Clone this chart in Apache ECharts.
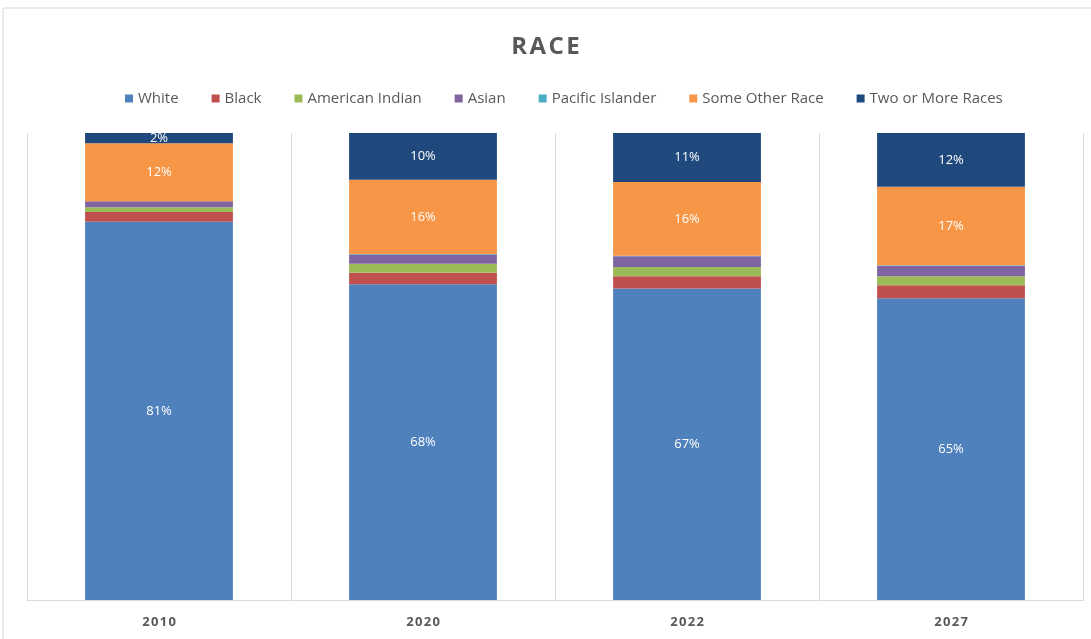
<!DOCTYPE html>
<html>
<head>
<meta charset="utf-8">
<script src="https://cdn.jsdelivr.net/npm/echarts@6/dist/echarts.min.js"></script>
<style>
    html, body { margin: 0; padding: 0; background: #ffffff; }
    #chart1 { width: 1091px; height: 639px; }
</style>
</head>
<body>
<div id="chart1"></div>
<script>
    var years = ['2010', '2020', '2022', '2027'];
    var white = [81.0, 67.6, 66.7, 64.6];
    var black = [2.1, 2.5, 2.6, 2.8];
    var americanIndian = [1.0, 1.9, 2.0, 1.9];
    var asian = [1.3, 2.0, 2.3, 2.3];
    var pacificIslander = [0.0, 0.1, 0.1, 0.1];
    var someOther = [12.4, 15.9, 15.8, 16.8];
    var twoOrMore = [2.2, 10.0, 10.5, 11.5];

    var dom = document.getElementById("chart1");
    var myChart = echarts.init(dom);

    function spaced(s) {
        return s.split('').join('\u200A');
    }

    function pct(p) {
        return Math.round(p.value) + '%';
    }

    function makeSeries(name, data, color, showLabel) {
        return {
            name: name,
            type: 'bar',
            stack: 'race',
            barWidth: '56%',
            data: data,
            itemStyle: {color: color},
            label: {
                show: showLabel,
                position: 'inside',
                color: '#ffffff',
                fontSize: 13,
                fontFamily: 'Open Sans',
                formatter: pct
            }
        };
    }

    option = {
        backgroundColor: '#ffffff',
        title: {
            text: spaced('RACE'),
            left: 'center',
            top: 30,
            textStyle: {
                fontSize: 24,
                fontWeight: 'bold',
                color: '#595959',
                fontFamily: 'Open Sans'
            }
        },
        legend: {
            top: 86,
            left: 120,
            itemWidth: 8,
            itemHeight: 8,
            itemGap: 33,
            icon: 'rect',
            textStyle: {
                fontSize: 15,
                color: '#595959',
                fontFamily: 'Open Sans'
            }
        },
        graphic: [{
            type: 'rect',
            shape: {x: 3, y: 8, width: 1100, height: 640},
            style: {fill: 'none', stroke: '#d9d9d9', lineWidth: 1},
            silent: true
        }],
        grid: {
            left: 27,
            right: 8,
            top: 133,
            bottom: 39
        },
        xAxis: [
            {
                type: 'category',
                data: years,
                axisTick: {show: false},
                axisLine: {lineStyle: {color: '#d9d9d9'}},
                splitLine: {show: true, lineStyle: {color: '#d9d9d9'}},
                axisLabel: {
                    margin: 16,
                    fontSize: 13,
                    fontWeight: 'bold',
                    color: '#595959',
                    fontFamily: 'Open Sans',
                    formatter: spaced
                }
            }
        ],
        yAxis: [
            {
                type: 'value',
                min: 0,
                max: 100,
                show: false,
                splitLine: {show: false}
            }
        ],
        series: [
            makeSeries('White', white, '#4f81bd', true),
            makeSeries('Black', black, '#c0504d', false),
            makeSeries('American Indian', americanIndian, '#9bbb59', false),
            makeSeries('Asian', asian, '#8064a2', false),
            makeSeries('Pacific Islander', pacificIslander, '#4bacc6', false),
            makeSeries('Some Other Race', someOther, '#f79646', true),
            makeSeries('Two or More Races', twoOrMore, '#1f497d', true)
        ]
    };

    if (option && typeof option === "object") {
        myChart.setOption(option, true);
    }
</script>
</body>
</html>
